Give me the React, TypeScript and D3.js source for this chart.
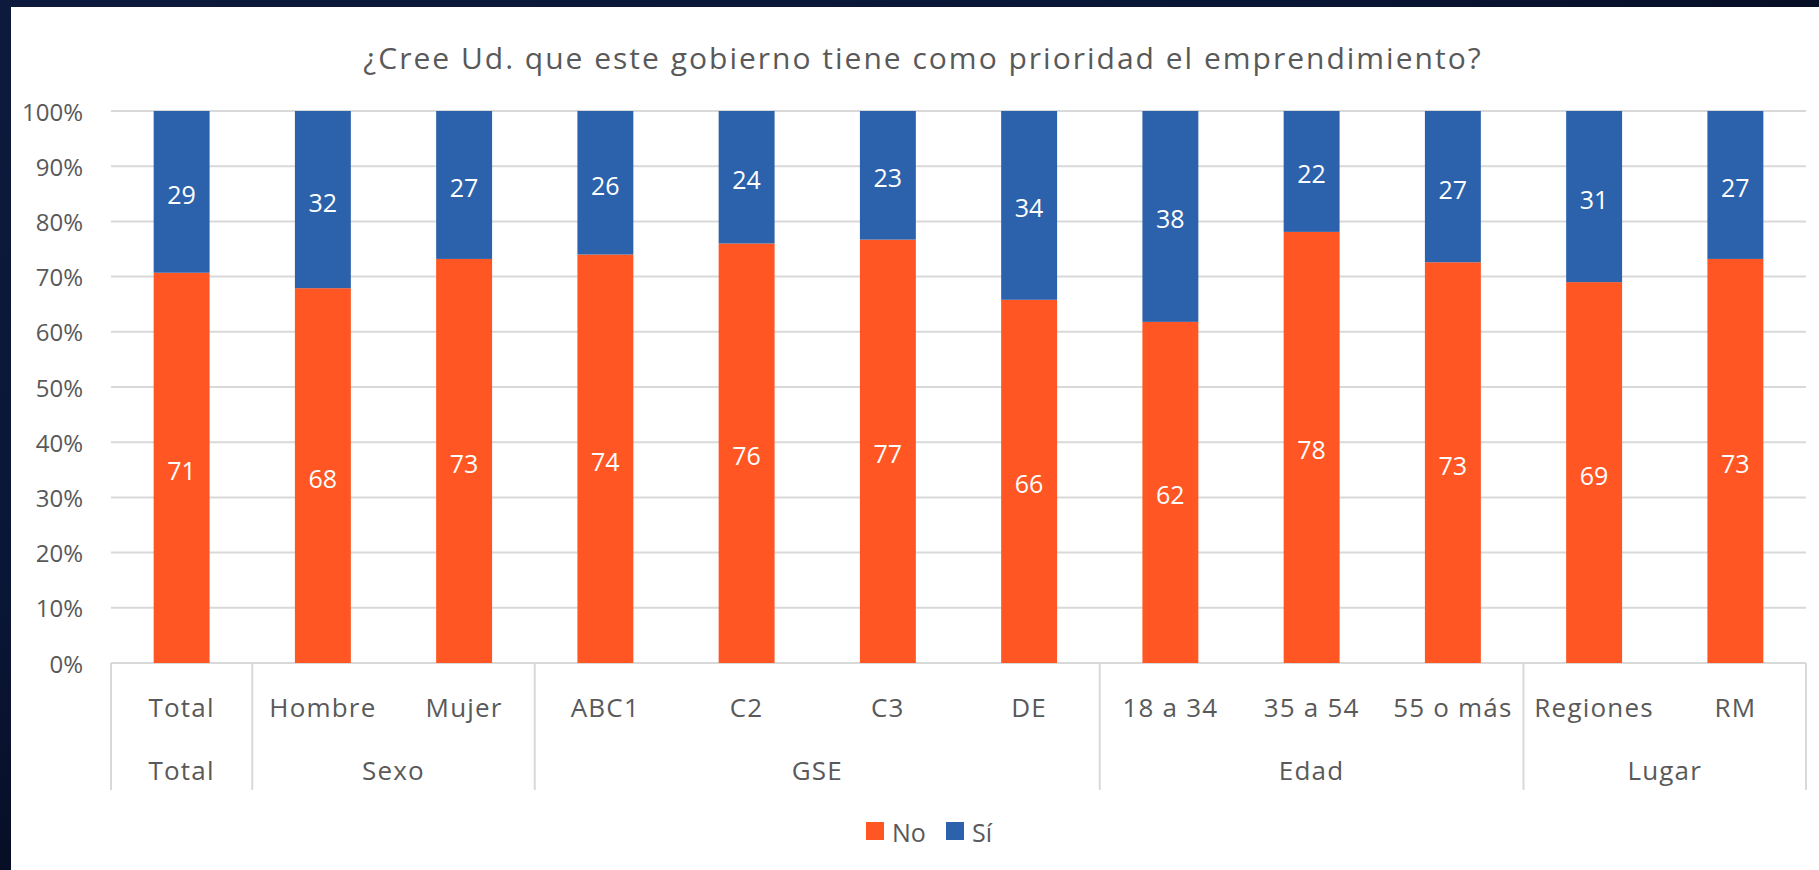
import React from "react";
import * as d3 from "d3";

const categories = ["Total", "Hombre", "Mujer", "ABC1", "C2", "C3", "DE", "18 a 34", "35 a 54", "55 o más", "Regiones", "RM"];
const groups = [
  { name: "Total", start: 0, end: 0 },
  { name: "Sexo", start: 1, end: 2 },
  { name: "GSE", start: 3, end: 6 },
  { name: "Edad", start: 7, end: 9 },
  { name: "Lugar", start: 10, end: 11 },
];
const noValues = [70.7, 67.9, 73.2, 74.0, 76.0, 76.7, 65.8, 61.8, 78.1, 72.6, 69.0, 73.2];
const siValues = [29.3, 32.1, 26.8, 26.0, 24.0, 23.3, 34.2, 38.2, 21.9, 27.4, 31.0, 26.8];
const yTicks = [0, 10, 20, 30, 40, 50, 60, 70, 80, 90, 100];
const seriesNames = ["No", "Sí"];
const title = "¿Cree Ud. que este gobierno tiene como prioridad el emprendimiento?";

const W = 1819;
const H = 870;
const FONT = "'Open Sans', 'Noto Sans', sans-serif";
const TEXT = "#595959";
const GRID = "#d9d9d9";
const ORANGE = "#ff5623";
const BLUE = "#2b62ab";

export default function App() {
  const left = 111;
  const right = 1806;
  const top = 111;
  const bottom = 663;

  const x = d3.scaleBand<number>()
    .domain(d3.range(categories.length))
    .range([left, right])
    .paddingInner(0.604)
    .paddingOuter(0.302);
  const step = x.step();
  const y = d3.scaleLinear().domain([0, 100]).range([bottom, top]);
  const fmt = d3.format(".0f");

  const stacked = categories.map((c, i) => {
    const no = noValues[i];
    const si = siValues[i];
    return [
      { key: "No", y0: 0, y1: no, v: no, color: ORANGE },
      { key: "Sí", y0: no, y1: no + si, v: si, color: BLUE },
    ];
  });

  const bandStart = (i: number) => left + step * i;
  const boundaries = [0, ...groups.map((g) => g.end + 1)];

  return (
    <svg
      width={W}
      height={H}
      style={{ position: "absolute", left: 0, top: 0, display: "block" }}
      fontFamily={FONT}
    >
      <defs>
        <linearGradient id="bg" x1="0" y1="0" x2="1" y2="1">
          <stop offset="0" stopColor="#0d1a3d" />
          <stop offset="0.35" stopColor="#0a1636" />
          <stop offset="0.6" stopColor="#050a1c" />
          <stop offset="1" stopColor="#0a1433" />
        </linearGradient>
      </defs>
      <rect x={0} y={0} width={W} height={H} fill="url(#bg)" />
      <rect x={11} y={7} width={W - 11} height={H - 7} fill="#ffffff" />

      <text x={923} y={57} textAnchor="middle" dominantBaseline="central" fontSize={30} letterSpacing={2} fill={TEXT}>
        {title}
      </text>

      {yTicks.map((t) => (
        <g key={t}>
          <line x1={left} x2={right} y1={y(t)} y2={y(t)} stroke={GRID} strokeWidth={2} />
          <text x={83} y={y(t)} textAnchor="end" dominantBaseline="central" fontSize={24} fill={TEXT}>
            {t}%
          </text>
        </g>
      ))}

      {stacked.map((segs, i) =>
        segs.map((s) => (
          <rect
            key={i + s.key}
            x={x(i)}
            width={x.bandwidth()}
            y={y(s.y1)}
            height={y(s.y0) - y(s.y1)}
            fill={s.color}
          />
        ))
      )}

      {stacked.map((segs, i) =>
        segs.map((s) => (
          <text
            key={"l" + i + s.key}
            x={(x(i) as number) + x.bandwidth() / 2}
            y={(y(s.y0) + y(s.y1)) / 2 + 2}
            textAnchor="middle"
            dominantBaseline="central"
            fontSize={25}
            fill="#ffffff"
          >
            {fmt(s.v)}
          </text>
        ))
      )}

      {/* category axis */}
      {boundaries.map((b, k) => (
        <line
          key={"b" + k}
          x1={bandStart(b)}
          x2={bandStart(b)}
          y1={bottom}
          y2={790}
          stroke={GRID}
          strokeWidth={2}
        />
      ))}
      {categories.map((c, i) => (
        <text
          key={"c" + i}
          x={(x(i) as number) + x.bandwidth() / 2}
          y={707}
          textAnchor="middle"
          dominantBaseline="central"
          fontSize={26}
          letterSpacing={1.2}
          fill={TEXT}
        >
          {c}
        </text>
      ))}
      {groups.map((g) => (
        <text
          key={"g" + g.name}
          x={(bandStart(g.start) + bandStart(g.end + 1)) / 2}
          y={770}
          textAnchor="middle"
          dominantBaseline="central"
          fontSize={26}
          letterSpacing={1.2}
          fill={TEXT}
        >
          {g.name}
        </text>
      ))}

      {/* legend */}
      {seriesNames.map((n, k) => {
        const lx = k === 0 ? 866 : 946;
        return (
          <g key={"lg" + n}>
            <rect x={lx} y={822} width={18} height={18} fill={k === 0 ? ORANGE : BLUE} />
            <text x={lx + 26} y={832} dominantBaseline="central" fontSize={25} fill={TEXT}>
              {n}
            </text>
          </g>
        );
      })}
    </svg>
  );
}
